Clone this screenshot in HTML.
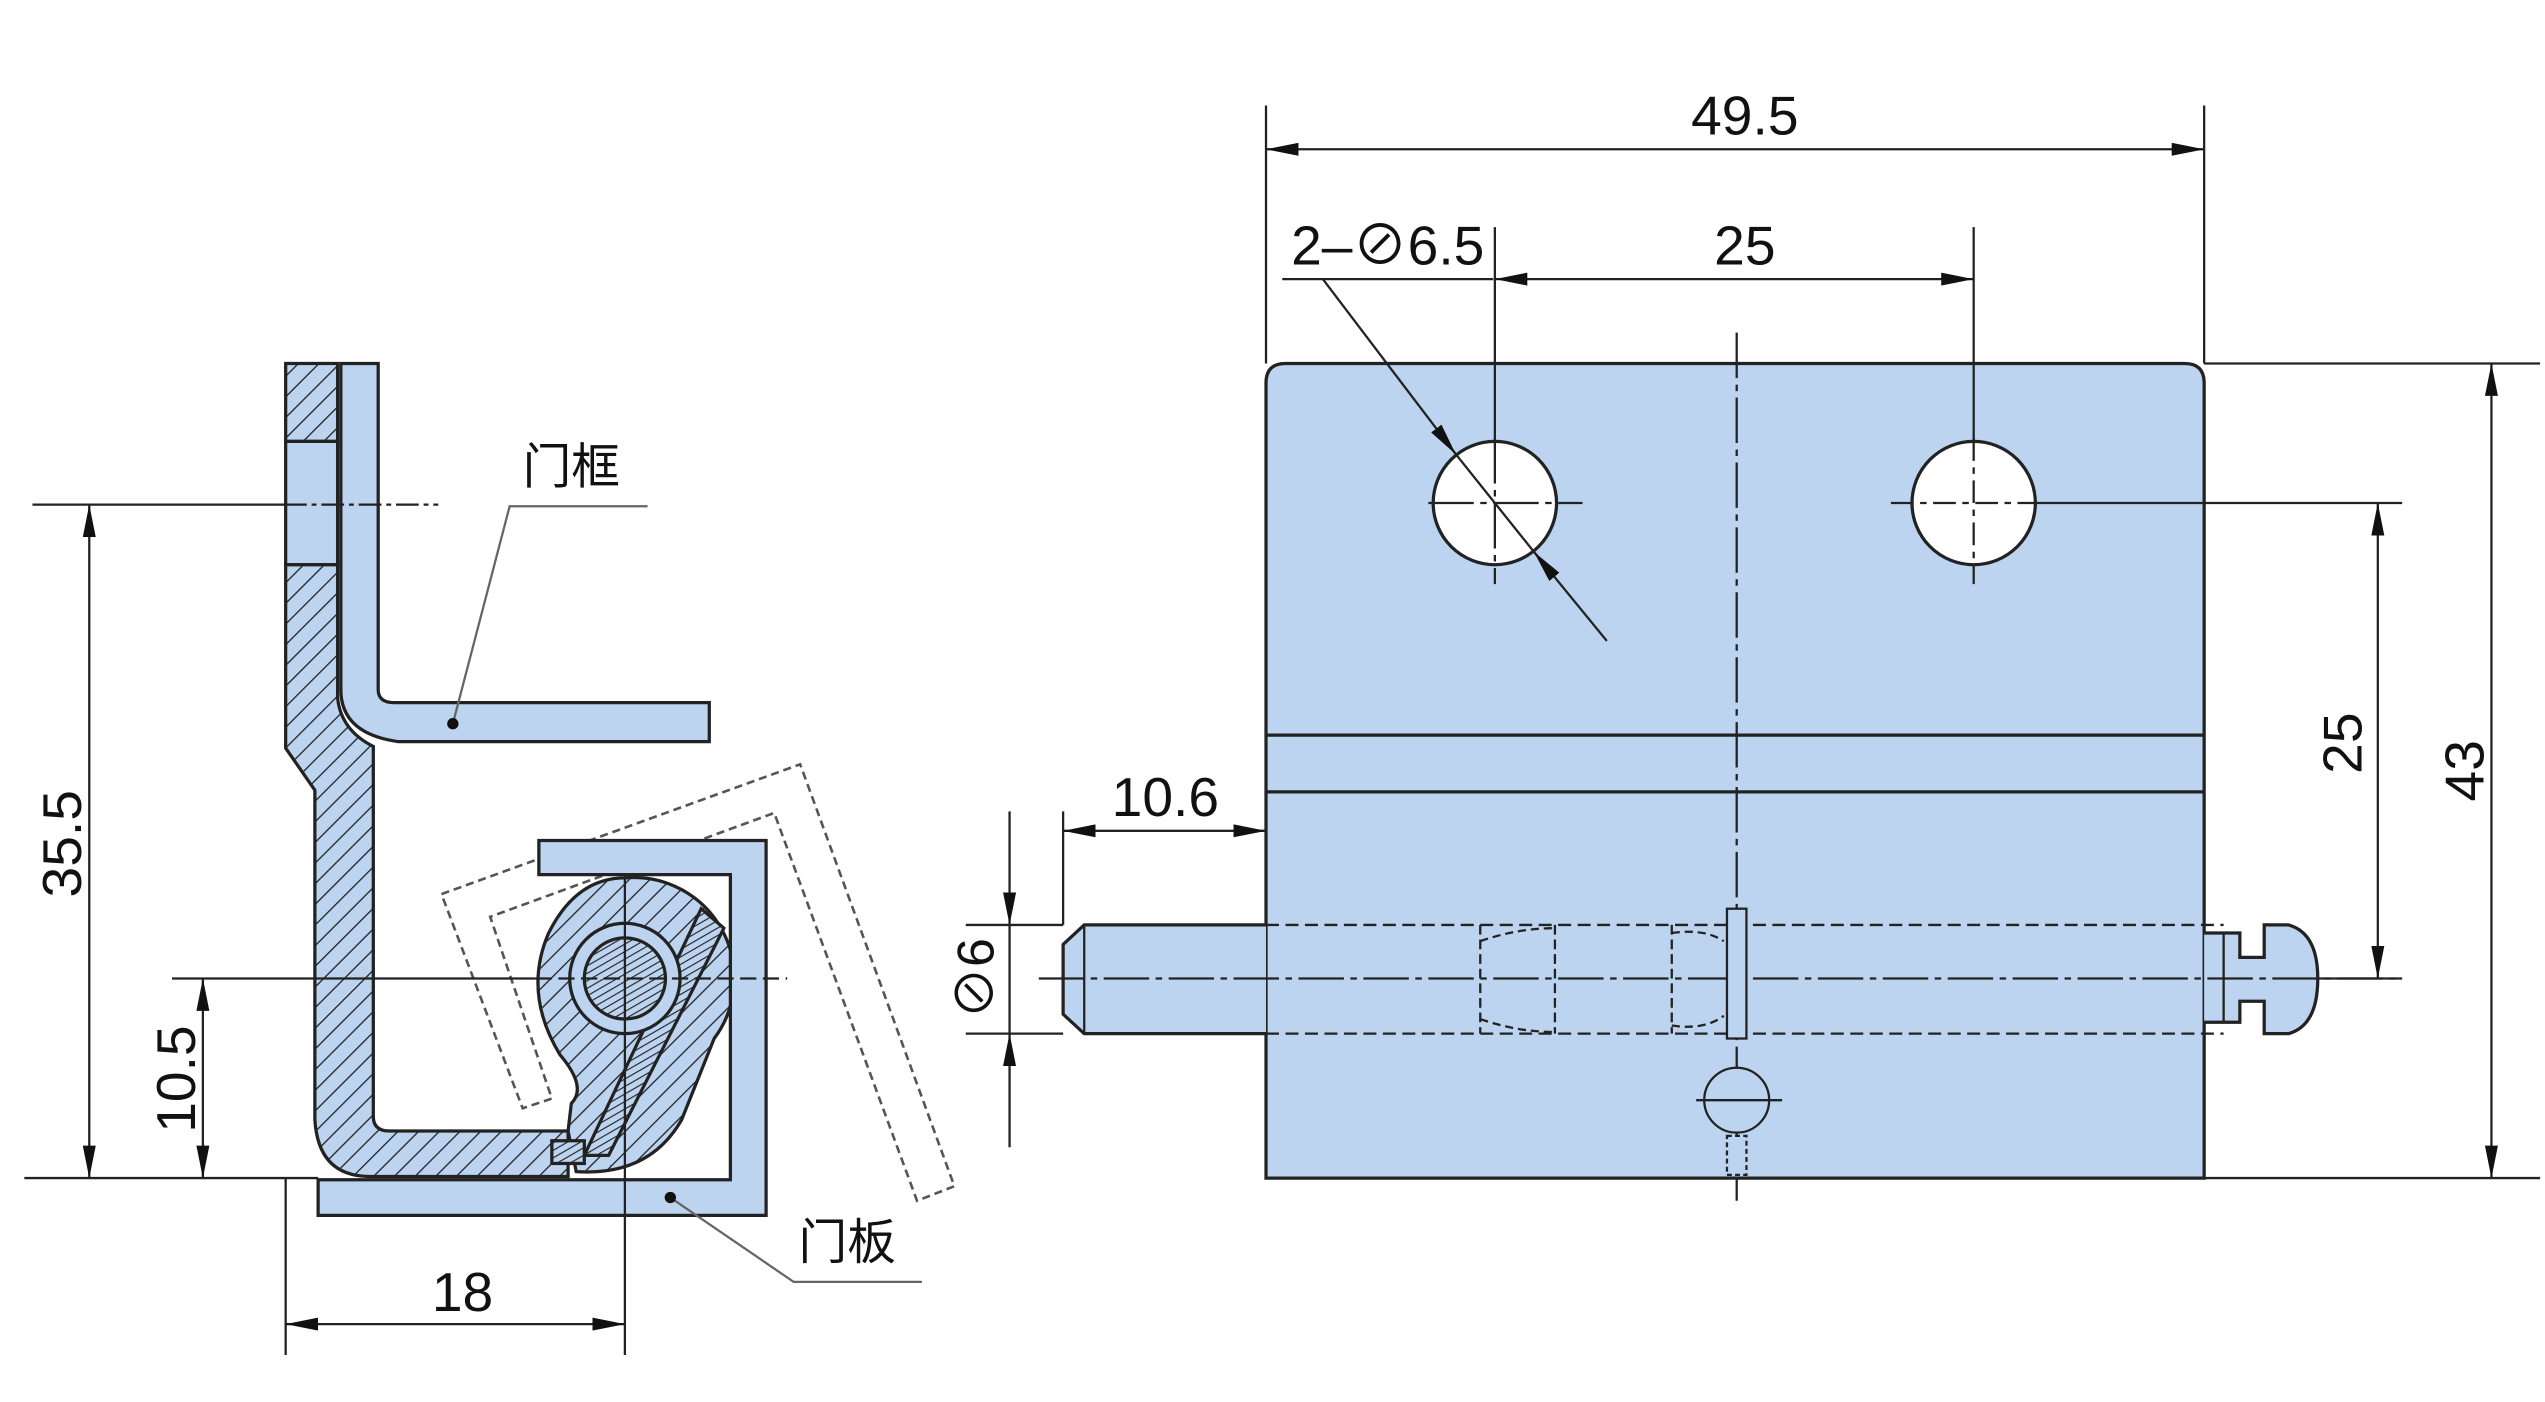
<!DOCTYPE html>
<html><head><meta charset="utf-8"><style>
html,body{margin:0;padding:0;background:#fff;}
svg{display:block;}
text{font-family:"Liberation Sans","Noto Sans CJK SC",sans-serif;fill:#111;}
</style></head><body>
<svg width="2545" height="1402" viewBox="0 0 1568 864" preserveAspectRatio="none" xmlns="http://www.w3.org/2000/svg">
<defs>
<pattern id="h" patternUnits="userSpaceOnUse" width="9" height="9" patternTransform="rotate(45)">
<rect width="9" height="9" fill="#bcd4ef"/><line x1="0" y1="0" x2="0" y2="9" stroke="#222" stroke-width="1.6"/>
</pattern>
<pattern id="h2" patternUnits="userSpaceOnUse" width="4" height="4" patternTransform="rotate(60)">
<rect width="4" height="4" fill="#bcd4ef"/><line x1="0" y1="0" x2="0" y2="4" stroke="#222" stroke-width="1.4"/>
</pattern>
<marker id="a" viewBox="0 0 20 8" refX="20" refY="4" markerWidth="20" markerHeight="8" markerUnits="userSpaceOnUse" orient="auto-start-reverse">
<path d="M0,0 L20,4 L0,8 Z" fill="#111"/></marker>
</defs>
<g stroke="#222" stroke-width="2" fill="none">
<path d="M272,551 L493,471 L588,731 L565,740 L477,501 L302,565 L340,677 L322,683 Z" stroke="#555" stroke-width="1.6" stroke-dasharray="5,3"/>
<rect x="176" y="224" width="32" height="48" fill="url(#h)"/>
<rect x="176" y="272" width="32" height="76" fill="#bcd4ef"/>
<path d="M176,348 L208,348 L208,430 Q210,450 230,460 L230,688 Q230,697 240,697 L350,697 L350,725 L228,725 Q196,725 194,690 L194,487 L176,461 Z" fill="url(#h)"/>
<path d="M385,541 A62,62 0 0 1 440,640 L420,690 Q400,725 355,722 L350,697 L352,680 Q362,670 345,650 Q322,612 338,575 Q355,541 385,541 Z" fill="url(#h)"/>
<path d="M432,560 L446,572 L375,712 L360,712 Z" fill="url(#h2)"/>
<rect x="340" y="703" width="20" height="14" fill="url(#h2)"/>
<circle cx="385" cy="603" r="34" fill="#bcd4ef"/>
<circle cx="385" cy="603" r="25" fill="url(#h2)"/>
<path d="M210,224 L233,224 L233,425 Q233,433 243,433 L437,433 L437,457 L245,457 Q210,452 210,425 Z" fill="#bcd4ef"/>
<path d="M332,518 L472,518 L472,749 L196,749 L196,727 L450,727 L450,539 L332,539 Z" fill="#bcd4ef"/>
</g>
<g stroke="#222" stroke-width="1.4" fill="none">
<line x1="20" y1="311" x2="175" y2="311"/><line x1="175" y1="311" x2="270" y2="311" stroke-dasharray="14,3,3,3"/>
<line x1="106" y1="603" x2="330" y2="603"/><line x1="330" y1="603" x2="485" y2="603" stroke-dasharray="10,4"/>
<line x1="385" y1="538" x2="385" y2="835"/>
<line x1="15" y1="726" x2="196" y2="726"/>
<line x1="176" y1="726" x2="176" y2="835"/>
<line x1="55" y1="311" x2="55" y2="726" marker-start="url(#a)" marker-end="url(#a)"/>
<line x1="125" y1="603" x2="125" y2="726" marker-start="url(#a)" marker-end="url(#a)"/>
<line x1="176" y1="816" x2="385" y2="816" marker-start="url(#a)" marker-end="url(#a)"/>
<polyline points="279,446 314,312 399,312" stroke="#666"/>
<polyline points="413,738 489,790 568,790" stroke="#666"/>
</g>
<circle cx="279" cy="446" r="3.5" fill="#111"/><circle cx="413" cy="738" r="3.5" fill="#111"/>
<text x="322" y="298" font-size="30">门框</text>
<text x="492" y="776" font-size="30">门板</text>
<text x="285" y="808" font-size="34" text-anchor="middle">18</text>
<text transform="translate(50,520) rotate(-90)" font-size="34" text-anchor="middle">35.5</text>
<text transform="translate(120,665) rotate(-90)" font-size="34" text-anchor="middle">10.5</text>

<g stroke="#222" stroke-width="2" fill="none">
<path d="M780,726 L780,236 Q780,224 792,224 L1346,224 Q1358,224 1358,236 L1358,726 Z" fill="#bcd4ef"/>
<line x1="780" y1="453" x2="1358" y2="453"/><line x1="780" y1="488" x2="1358" y2="488"/>
<circle cx="921" cy="310" r="38" fill="#fff"/><circle cx="1216" cy="310" r="38" fill="#fff"/>
<path d="M780,570 L668,570 L655,582 L655,625 L668,637 L780,637" fill="#bcd4ef"/>
<line x1="668" y1="570" x2="668" y2="637" stroke-width="1.4"/>
<path d="M1358,575 L1380,575 L1380,590 L1395,590 L1395,570 L1410,570 Q1428,575 1428,603 Q1428,632 1410,637 L1395,637 L1395,617 L1380,617 L1380,630 L1358,630" fill="#bcd4ef"/>
<line x1="1370" y1="575" x2="1370" y2="630" stroke-width="1.4"/>
</g>
<g stroke="#222" stroke-width="1.4" fill="none">
<line x1="780" y1="570" x2="1370" y2="570" stroke-dasharray="8,4"/>
<line x1="780" y1="637" x2="1370" y2="637" stroke-dasharray="8,4"/>
<line x1="912" y1="570" x2="912" y2="637" stroke-dasharray="6,3"/>
<line x1="958" y1="570" x2="958" y2="637" stroke-dasharray="6,3"/>
<line x1="1030" y1="570" x2="1030" y2="637" stroke-dasharray="6,3"/>
<path d="M912,580 Q935,572 958,572 M912,628 Q935,636 958,636 M1030,575 Q1050,572 1062,580 M1030,632 Q1050,635 1062,626" stroke-dasharray="5,3"/>
<line x1="640" y1="603" x2="1480" y2="603" stroke-dasharray="28,4,4,4"/>
<line x1="1070" y1="205" x2="1070" y2="740" stroke-dasharray="28,4,4,4"/>
<line x1="880" y1="310" x2="975" y2="310" stroke-dasharray="28,4,4,4"/>
<line x1="921" y1="270" x2="921" y2="360" stroke-dasharray="28,4,4,4"/>
<line x1="1165" y1="310" x2="1255" y2="310" stroke-dasharray="14,4,4,4"/>
<line x1="1216" y1="270" x2="1216" y2="360" stroke-dasharray="14,4,4,4"/>
<rect x="1064" y="560" width="12" height="80" fill="#bcd4ef"/>
<circle cx="1070" cy="678" r="20" fill="#bcd4ef"/>
<line x1="1045" y1="678" x2="1098" y2="678"/>
<rect x="1064" y="700" width="12" height="24" fill="#bcd4ef" stroke-dasharray="3,2"/>
<line x1="780" y1="65" x2="780" y2="224"/><line x1="1358" y1="65" x2="1358" y2="224"/>
<line x1="921" y1="140" x2="921" y2="272"/><line x1="1216" y1="140" x2="1216" y2="272"/>
<line x1="1358" y1="224" x2="1565" y2="224"/><line x1="1358" y1="726" x2="1565" y2="726"/>
<line x1="1254" y1="310" x2="1480" y2="310"/><line x1="1428" y1="603" x2="1480" y2="603"/>
<line x1="655" y1="500" x2="655" y2="570"/><line x1="780" y1="500" x2="780" y2="570"/>
<line x1="595" y1="570" x2="655" y2="570"/><line x1="595" y1="637" x2="655" y2="637"/>
<line x1="780" y1="92" x2="1358" y2="92" marker-start="url(#a)" marker-end="url(#a)"/>
<line x1="921" y1="172" x2="1216" y2="172" marker-start="url(#a)" marker-end="url(#a)"/>
<line x1="1535" y1="224" x2="1535" y2="726" marker-start="url(#a)" marker-end="url(#a)"/>
<line x1="1465" y1="310" x2="1465" y2="603" marker-start="url(#a)" marker-end="url(#a)"/>
<line x1="655" y1="512" x2="780" y2="512" marker-start="url(#a)" marker-end="url(#a)"/>
<line x1="622" y1="500" x2="622" y2="570" marker-end="url(#a)"/>
<line x1="622" y1="707" x2="622" y2="637" marker-end="url(#a)"/>
<line x1="622" y1="570" x2="622" y2="637"/>
<line x1="790" y1="172" x2="920" y2="172"/>
<line x1="815" y1="172" x2="897" y2="280" marker-end="url(#a)"/>
<line x1="897" y1="280" x2="945" y2="340"/>
<line x1="990" y1="395" x2="945" y2="340" marker-end="url(#a)"/>
</g>
<text x="1075" y="83" font-size="34" text-anchor="middle">49.5</text>
<text x="1075" y="163" font-size="34" text-anchor="middle">25</text>
<text x="855" y="163" font-size="34" text-anchor="middle">2–⊘6.5</text>
<text x="718" y="503" font-size="34" text-anchor="middle">10.6</text>
<text transform="translate(1455,458) rotate(-90)" font-size="34" text-anchor="middle">25</text>
<text transform="translate(1530,475) rotate(-90)" font-size="34" text-anchor="middle">43</text>
<text transform="translate(612,603) rotate(-90)" font-size="32" text-anchor="middle">⊘6</text>
</svg>
</body></html>
